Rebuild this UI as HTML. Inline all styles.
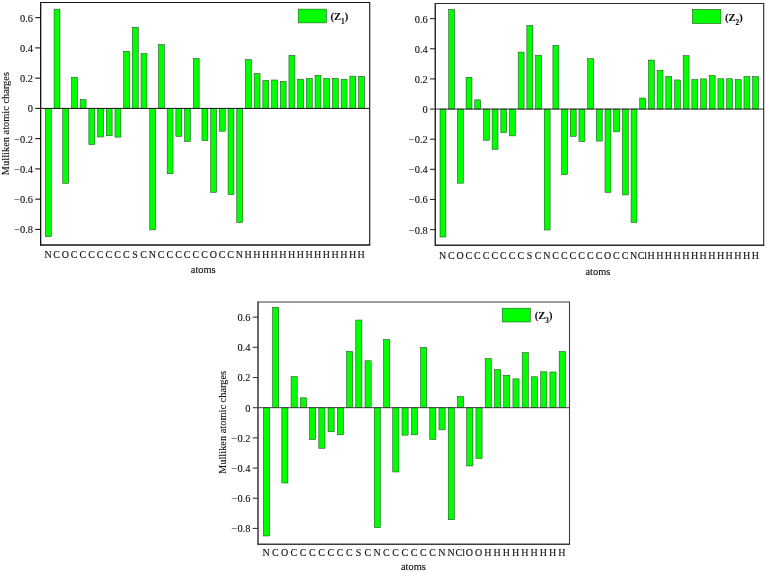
<!DOCTYPE html>
<html lang="en"><head><meta charset="utf-8"><title>Mulliken atomic charges</title>
<style>
html,body{margin:0;padding:0;background:#fff;}
body{width:767px;height:573px;overflow:hidden;}
svg{display:block;}
text{font-family:"Liberation Serif","Times New Roman",serif;fill:#111;stroke:#111;stroke-width:0.12px;}
.t{font-size:10px;}
.ax{stroke-width:1.2;fill:none;}
.tk{stroke-width:1.1;}
.b{fill:#00ff00;stroke:#234a23;stroke-width:0.55;}
.lg{font-weight:bold;font-size:10.5px;}
</style></head><body>
<svg width="767" height="573" viewBox="0 0 767 573">
<rect x="0" y="0" width="767" height="573" fill="#ffffff"/>
<g style="stroke:#141414">
<rect class="b" x="45.35" y="108.40" width="5.90" height="128.29"/>
<rect class="b" x="54.05" y="9.14" width="5.90" height="99.26"/>
<rect class="b" x="62.75" y="108.40" width="5.90" height="74.94"/>
<rect class="b" x="71.45" y="77.24" width="5.90" height="31.16"/>
<rect class="b" x="80.15" y="99.58" width="5.90" height="8.82"/>
<rect class="b" x="88.85" y="108.40" width="5.90" height="36.10"/>
<rect class="b" x="97.55" y="108.40" width="5.90" height="28.58"/>
<rect class="b" x="106.25" y="108.40" width="5.90" height="27.36"/>
<rect class="b" x="114.95" y="108.40" width="5.90" height="28.73"/>
<rect class="b" x="123.65" y="51.25" width="5.90" height="57.15"/>
<rect class="b" x="132.35" y="27.23" width="5.90" height="81.17"/>
<rect class="b" x="141.05" y="53.53" width="5.90" height="54.87"/>
<rect class="b" x="149.75" y="108.40" width="5.90" height="121.45"/>
<rect class="b" x="158.45" y="44.56" width="5.90" height="63.84"/>
<rect class="b" x="167.15" y="108.40" width="5.90" height="65.36"/>
<rect class="b" x="175.85" y="108.40" width="5.90" height="27.97"/>
<rect class="b" x="184.55" y="108.40" width="5.90" height="33.14"/>
<rect class="b" x="193.25" y="58.54" width="5.90" height="49.86"/>
<rect class="b" x="201.95" y="108.40" width="5.90" height="32.22"/>
<rect class="b" x="210.65" y="108.40" width="5.90" height="83.90"/>
<rect class="b" x="219.35" y="108.40" width="5.90" height="22.80"/>
<rect class="b" x="228.05" y="108.40" width="5.90" height="86.18"/>
<rect class="b" x="236.75" y="108.40" width="5.90" height="114.15"/>
<rect class="b" x="245.45" y="59.61" width="5.90" height="48.79"/>
<rect class="b" x="254.15" y="73.59" width="5.90" height="34.81"/>
<rect class="b" x="262.85" y="80.43" width="5.90" height="27.97"/>
<rect class="b" x="271.55" y="79.98" width="5.90" height="28.42"/>
<rect class="b" x="280.25" y="81.34" width="5.90" height="27.06"/>
<rect class="b" x="288.95" y="55.35" width="5.90" height="53.05"/>
<rect class="b" x="297.65" y="79.22" width="5.90" height="29.18"/>
<rect class="b" x="306.35" y="78.46" width="5.90" height="29.94"/>
<rect class="b" x="315.05" y="75.26" width="5.90" height="33.14"/>
<rect class="b" x="323.75" y="78.46" width="5.90" height="29.94"/>
<rect class="b" x="332.45" y="78.30" width="5.90" height="30.10"/>
<rect class="b" x="341.15" y="79.37" width="5.90" height="29.03"/>
<rect class="b" x="349.85" y="76.18" width="5.90" height="32.22"/>
<rect class="b" x="358.55" y="76.33" width="5.90" height="32.07"/>
<path class="ax" d="M40.60 245.00V2.50H369.70V245.00" style="stroke-width:1.1"/>
<path class="ax" d="M40.60 2.00V245.70" style="stroke-width:1.2;stroke:#141414"/>
<path class="ax" d="M40.00 245.00H370.25" style="stroke-width:1.35"/>
<line class="ax" x1="40.60" y1="108.40" x2="369.70" y2="108.40" style="stroke-width:1"/>
<line class="tk" x1="35.30" y1="17.65" x2="40.60" y2="17.65"/>
<text class="t" x="33.00" y="21.60" text-anchor="end" style="font-size:10.4px">0.6</text>
<line class="tk" x1="35.30" y1="47.90" x2="40.60" y2="47.90"/>
<text class="t" x="33.00" y="51.85" text-anchor="end" style="font-size:10.4px">0.4</text>
<line class="tk" x1="35.30" y1="78.15" x2="40.60" y2="78.15"/>
<text class="t" x="33.00" y="82.10" text-anchor="end" style="font-size:10.4px">0.2</text>
<line class="tk" x1="35.30" y1="108.40" x2="40.60" y2="108.40"/>
<text class="t" x="33.00" y="112.35" text-anchor="end" style="font-size:10.4px">0</text>
<line class="tk" x1="35.30" y1="138.65" x2="40.60" y2="138.65"/>
<text class="t" x="33.00" y="142.60" text-anchor="end" style="font-size:10.4px">−0.2</text>
<line class="tk" x1="35.30" y1="168.90" x2="40.60" y2="168.90"/>
<text class="t" x="33.00" y="172.85" text-anchor="end" style="font-size:10.4px">−0.4</text>
<line class="tk" x1="35.30" y1="199.15" x2="40.60" y2="199.15"/>
<text class="t" x="33.00" y="203.10" text-anchor="end" style="font-size:10.4px">−0.6</text>
<line class="tk" x1="35.30" y1="229.40" x2="40.60" y2="229.40"/>
<text class="t" x="33.00" y="233.35" text-anchor="end" style="font-size:10.4px">−0.8</text>
<text class="t" x="48.00" y="258.00" text-anchor="middle">N</text>
<text class="t" x="56.70" y="258.00" text-anchor="middle">C</text>
<text class="t" x="65.40" y="258.00" text-anchor="middle">O</text>
<text class="t" x="74.10" y="258.00" text-anchor="middle">C</text>
<text class="t" x="82.80" y="258.00" text-anchor="middle">C</text>
<text class="t" x="91.50" y="258.00" text-anchor="middle">C</text>
<text class="t" x="100.20" y="258.00" text-anchor="middle">C</text>
<text class="t" x="108.90" y="258.00" text-anchor="middle">C</text>
<text class="t" x="117.60" y="258.00" text-anchor="middle">C</text>
<text class="t" x="126.30" y="258.00" text-anchor="middle">C</text>
<text class="t" x="135.00" y="258.00" text-anchor="middle">S</text>
<text class="t" x="143.70" y="258.00" text-anchor="middle">C</text>
<text class="t" x="152.40" y="258.00" text-anchor="middle">N</text>
<text class="t" x="161.10" y="258.00" text-anchor="middle">C</text>
<text class="t" x="169.80" y="258.00" text-anchor="middle">C</text>
<text class="t" x="178.50" y="258.00" text-anchor="middle">C</text>
<text class="t" x="187.20" y="258.00" text-anchor="middle">C</text>
<text class="t" x="195.90" y="258.00" text-anchor="middle">C</text>
<text class="t" x="204.60" y="258.00" text-anchor="middle">C</text>
<text class="t" x="213.30" y="258.00" text-anchor="middle">O</text>
<text class="t" x="222.00" y="258.00" text-anchor="middle">C</text>
<text class="t" x="230.70" y="258.00" text-anchor="middle">C</text>
<text class="t" x="239.40" y="258.00" text-anchor="middle">N</text>
<text class="t" x="248.10" y="258.00" text-anchor="middle">H</text>
<text class="t" x="256.80" y="258.00" text-anchor="middle">H</text>
<text class="t" x="265.50" y="258.00" text-anchor="middle">H</text>
<text class="t" x="274.20" y="258.00" text-anchor="middle">H</text>
<text class="t" x="282.90" y="258.00" text-anchor="middle">H</text>
<text class="t" x="291.60" y="258.00" text-anchor="middle">H</text>
<text class="t" x="300.30" y="258.00" text-anchor="middle">H</text>
<text class="t" x="309.00" y="258.00" text-anchor="middle">H</text>
<text class="t" x="317.70" y="258.00" text-anchor="middle">H</text>
<text class="t" x="326.40" y="258.00" text-anchor="middle">H</text>
<text class="t" x="335.10" y="258.00" text-anchor="middle">H</text>
<text class="t" x="343.80" y="258.00" text-anchor="middle">H</text>
<text class="t" x="352.50" y="258.00" text-anchor="middle">H</text>
<text class="t" x="361.20" y="258.00" text-anchor="middle">H</text>
<text class="t" x="203.20" y="272.80" text-anchor="middle" style="font-size:10.4px">atoms</text>
<text class="t" transform="translate(8.80,123.60) rotate(-90)" text-anchor="middle" style="font-size:10.4px">Mulliken atomic charges</text>
<rect class="b" x="298.20" y="9.10" width="28.30" height="13.80"/>
<text class="lg" x="330.50" y="20.00">(Z<tspan dy="3.8" style="font-size:7.3px">1</tspan><tspan dy="-3.8">)</tspan></text>
</g>
<g style="stroke:#2a2a2a">
<rect class="b" x="440.02" y="109.05" width="5.90" height="127.94"/>
<rect class="b" x="448.70" y="9.44" width="5.90" height="99.61"/>
<rect class="b" x="457.39" y="109.05" width="5.90" height="74.14"/>
<rect class="b" x="466.07" y="77.25" width="5.90" height="31.80"/>
<rect class="b" x="474.76" y="99.86" width="5.90" height="9.19"/>
<rect class="b" x="483.44" y="109.05" width="5.90" height="31.19"/>
<rect class="b" x="492.12" y="109.05" width="5.90" height="40.24"/>
<rect class="b" x="500.81" y="109.05" width="5.90" height="23.66"/>
<rect class="b" x="509.49" y="109.05" width="5.90" height="26.82"/>
<rect class="b" x="518.18" y="52.09" width="5.90" height="56.96"/>
<rect class="b" x="526.86" y="25.41" width="5.90" height="83.64"/>
<rect class="b" x="535.54" y="55.25" width="5.90" height="53.80"/>
<rect class="b" x="544.23" y="109.05" width="5.90" height="120.95"/>
<rect class="b" x="552.91" y="45.45" width="5.90" height="63.60"/>
<rect class="b" x="561.60" y="109.05" width="5.90" height="65.55"/>
<rect class="b" x="570.28" y="109.05" width="5.90" height="27.28"/>
<rect class="b" x="578.96" y="109.05" width="5.90" height="32.48"/>
<rect class="b" x="587.65" y="58.72" width="5.90" height="50.33"/>
<rect class="b" x="596.33" y="109.05" width="5.90" height="32.04"/>
<rect class="b" x="605.02" y="109.05" width="5.90" height="83.34"/>
<rect class="b" x="613.70" y="109.05" width="5.90" height="22.76"/>
<rect class="b" x="622.38" y="109.05" width="5.90" height="85.90"/>
<rect class="b" x="631.07" y="109.05" width="5.90" height="113.48"/>
<rect class="b" x="639.75" y="98.05" width="5.90" height="11.00"/>
<rect class="b" x="648.44" y="60.07" width="5.90" height="48.98"/>
<rect class="b" x="657.12" y="70.32" width="5.90" height="38.73"/>
<rect class="b" x="665.80" y="76.35" width="5.90" height="32.70"/>
<rect class="b" x="674.49" y="79.96" width="5.90" height="29.09"/>
<rect class="b" x="683.17" y="55.70" width="5.90" height="53.35"/>
<rect class="b" x="691.86" y="79.59" width="5.90" height="29.46"/>
<rect class="b" x="700.54" y="78.91" width="5.90" height="30.14"/>
<rect class="b" x="709.22" y="75.50" width="5.90" height="33.55"/>
<rect class="b" x="717.91" y="78.76" width="5.90" height="30.29"/>
<rect class="b" x="726.59" y="78.76" width="5.90" height="30.29"/>
<rect class="b" x="735.28" y="79.59" width="5.90" height="29.46"/>
<rect class="b" x="743.96" y="76.57" width="5.90" height="32.48"/>
<rect class="b" x="752.64" y="76.57" width="5.90" height="32.48"/>
<path class="ax" d="M435.30 245.20V3.50H763.70V245.20" style="stroke-width:1.1"/>
<path class="ax" d="M435.30 3.00V245.90" style="stroke-width:1.15;stroke:#2a2a2a"/>
<path class="ax" d="M434.70 245.20H764.25" style="stroke-width:1.35"/>
<line class="ax" x1="435.30" y1="109.05" x2="763.70" y2="109.05" style="stroke-width:1"/>
<line class="tk" x1="430.00" y1="18.63" x2="435.30" y2="18.63"/>
<text class="t" x="427.70" y="22.58" text-anchor="end" style="font-size:10.4px">0.6</text>
<line class="tk" x1="430.00" y1="48.77" x2="435.30" y2="48.77"/>
<text class="t" x="427.70" y="52.72" text-anchor="end" style="font-size:10.4px">0.4</text>
<line class="tk" x1="430.00" y1="78.91" x2="435.30" y2="78.91"/>
<text class="t" x="427.70" y="82.86" text-anchor="end" style="font-size:10.4px">0.2</text>
<line class="tk" x1="430.00" y1="109.05" x2="435.30" y2="109.05"/>
<text class="t" x="427.70" y="113.00" text-anchor="end" style="font-size:10.4px">0</text>
<line class="tk" x1="430.00" y1="139.19" x2="435.30" y2="139.19"/>
<text class="t" x="427.70" y="143.14" text-anchor="end" style="font-size:10.4px">−0.2</text>
<line class="tk" x1="430.00" y1="169.33" x2="435.30" y2="169.33"/>
<text class="t" x="427.70" y="173.28" text-anchor="end" style="font-size:10.4px">−0.4</text>
<line class="tk" x1="430.00" y1="199.47" x2="435.30" y2="199.47"/>
<text class="t" x="427.70" y="203.42" text-anchor="end" style="font-size:10.4px">−0.6</text>
<line class="tk" x1="430.00" y1="229.61" x2="435.30" y2="229.61"/>
<text class="t" x="427.70" y="233.56" text-anchor="end" style="font-size:10.4px">−0.8</text>
<text class="t" x="442.67" y="258.50" text-anchor="middle">N</text>
<text class="t" x="451.35" y="258.50" text-anchor="middle">C</text>
<text class="t" x="460.04" y="258.50" text-anchor="middle">O</text>
<text class="t" x="468.72" y="258.50" text-anchor="middle">C</text>
<text class="t" x="477.41" y="258.50" text-anchor="middle">C</text>
<text class="t" x="486.09" y="258.50" text-anchor="middle">C</text>
<text class="t" x="494.77" y="258.50" text-anchor="middle">C</text>
<text class="t" x="503.46" y="258.50" text-anchor="middle">C</text>
<text class="t" x="512.14" y="258.50" text-anchor="middle">C</text>
<text class="t" x="520.83" y="258.50" text-anchor="middle">C</text>
<text class="t" x="529.51" y="258.50" text-anchor="middle">S</text>
<text class="t" x="538.19" y="258.50" text-anchor="middle">C</text>
<text class="t" x="546.88" y="258.50" text-anchor="middle">N</text>
<text class="t" x="555.56" y="258.50" text-anchor="middle">C</text>
<text class="t" x="564.25" y="258.50" text-anchor="middle">C</text>
<text class="t" x="572.93" y="258.50" text-anchor="middle">C</text>
<text class="t" x="581.61" y="258.50" text-anchor="middle">C</text>
<text class="t" x="590.30" y="258.50" text-anchor="middle">C</text>
<text class="t" x="598.98" y="258.50" text-anchor="middle">C</text>
<text class="t" x="607.67" y="258.50" text-anchor="middle">O</text>
<text class="t" x="616.35" y="258.50" text-anchor="middle">C</text>
<text class="t" x="625.03" y="258.50" text-anchor="middle">C</text>
<text class="t" x="633.72" y="258.50" text-anchor="middle">N</text>
<text class="t" x="642.40" y="258.50" text-anchor="middle">Cl</text>
<text class="t" x="651.09" y="258.50" text-anchor="middle">H</text>
<text class="t" x="659.77" y="258.50" text-anchor="middle">H</text>
<text class="t" x="668.45" y="258.50" text-anchor="middle">H</text>
<text class="t" x="677.14" y="258.50" text-anchor="middle">H</text>
<text class="t" x="685.82" y="258.50" text-anchor="middle">H</text>
<text class="t" x="694.51" y="258.50" text-anchor="middle">H</text>
<text class="t" x="703.19" y="258.50" text-anchor="middle">H</text>
<text class="t" x="711.87" y="258.50" text-anchor="middle">H</text>
<text class="t" x="720.56" y="258.50" text-anchor="middle">H</text>
<text class="t" x="729.24" y="258.50" text-anchor="middle">H</text>
<text class="t" x="737.93" y="258.50" text-anchor="middle">H</text>
<text class="t" x="746.61" y="258.50" text-anchor="middle">H</text>
<text class="t" x="755.29" y="258.50" text-anchor="middle">H</text>
<text class="t" x="597.90" y="274.70" text-anchor="middle" style="font-size:10.4px">atoms</text>
<rect class="b" x="692.40" y="9.40" width="28.50" height="14.20"/>
<text class="lg" x="725.00" y="20.70">(Z<tspan dy="3.8" style="font-size:7.3px">2</tspan><tspan dy="-3.8">)</tspan></text>
</g>
<g style="stroke:#3c3c3c">
<rect class="b" x="263.32" y="407.70" width="6.15" height="128.27"/>
<rect class="b" x="272.57" y="307.28" width="6.15" height="100.42"/>
<rect class="b" x="281.81" y="407.70" width="6.15" height="75.30"/>
<rect class="b" x="291.06" y="376.52" width="6.15" height="31.18"/>
<rect class="b" x="300.31" y="397.80" width="6.15" height="9.90"/>
<rect class="b" x="309.55" y="407.70" width="6.15" height="31.84"/>
<rect class="b" x="318.80" y="407.70" width="6.15" height="40.59"/>
<rect class="b" x="328.04" y="407.70" width="6.15" height="24.08"/>
<rect class="b" x="337.28" y="407.70" width="6.15" height="27.10"/>
<rect class="b" x="346.53" y="351.41" width="6.15" height="56.29"/>
<rect class="b" x="355.77" y="320.03" width="6.15" height="87.67"/>
<rect class="b" x="365.02" y="360.77" width="6.15" height="46.93"/>
<rect class="b" x="374.26" y="407.70" width="6.15" height="119.97"/>
<rect class="b" x="383.51" y="339.49" width="6.15" height="68.21"/>
<rect class="b" x="392.75" y="407.70" width="6.15" height="64.28"/>
<rect class="b" x="402.00" y="407.70" width="6.15" height="27.46"/>
<rect class="b" x="411.24" y="407.70" width="6.15" height="27.10"/>
<rect class="b" x="420.49" y="347.34" width="6.15" height="60.36"/>
<rect class="b" x="429.73" y="407.70" width="6.15" height="31.84"/>
<rect class="b" x="438.98" y="407.70" width="6.15" height="22.15"/>
<rect class="b" x="448.22" y="407.70" width="6.15" height="112.04"/>
<rect class="b" x="457.47" y="396.53" width="6.15" height="11.17"/>
<rect class="b" x="466.71" y="407.70" width="6.15" height="58.25"/>
<rect class="b" x="475.96" y="407.70" width="6.15" height="50.70"/>
<rect class="b" x="485.20" y="358.66" width="6.15" height="49.04"/>
<rect class="b" x="494.45" y="369.67" width="6.15" height="38.03"/>
<rect class="b" x="503.69" y="375.26" width="6.15" height="32.44"/>
<rect class="b" x="512.94" y="378.88" width="6.15" height="28.82"/>
<rect class="b" x="522.18" y="352.62" width="6.15" height="55.08"/>
<rect class="b" x="531.43" y="376.77" width="6.15" height="30.93"/>
<rect class="b" x="540.67" y="371.79" width="6.15" height="35.91"/>
<rect class="b" x="549.92" y="372.00" width="6.15" height="35.70"/>
<rect class="b" x="559.16" y="351.57" width="6.15" height="56.13"/>
<path class="ax" d="M258.00 544.25V302.00H569.50V544.25" style="stroke-width:1.1"/>
<path class="ax" d="M258.00 301.50V544.95" style="stroke-width:1;stroke:#3c3c3c"/>
<path class="ax" d="M257.40 544.25H570.05" style="stroke-width:1.35"/>
<line class="ax" x1="258.00" y1="407.70" x2="569.50" y2="407.70" style="stroke-width:1"/>
<line class="tk" x1="252.70" y1="317.16" x2="258.00" y2="317.16"/>
<text class="t" x="250.40" y="321.11" text-anchor="end" style="font-size:10.4px">0.6</text>
<line class="tk" x1="252.70" y1="347.34" x2="258.00" y2="347.34"/>
<text class="t" x="250.40" y="351.29" text-anchor="end" style="font-size:10.4px">0.4</text>
<line class="tk" x1="252.70" y1="377.52" x2="258.00" y2="377.52"/>
<text class="t" x="250.40" y="381.47" text-anchor="end" style="font-size:10.4px">0.2</text>
<line class="tk" x1="252.70" y1="407.70" x2="258.00" y2="407.70"/>
<text class="t" x="250.40" y="411.65" text-anchor="end" style="font-size:10.4px">0</text>
<line class="tk" x1="252.70" y1="437.88" x2="258.00" y2="437.88"/>
<text class="t" x="250.40" y="441.83" text-anchor="end" style="font-size:10.4px">−0.2</text>
<line class="tk" x1="252.70" y1="468.06" x2="258.00" y2="468.06"/>
<text class="t" x="250.40" y="472.01" text-anchor="end" style="font-size:10.4px">−0.4</text>
<line class="tk" x1="252.70" y1="498.24" x2="258.00" y2="498.24"/>
<text class="t" x="250.40" y="502.19" text-anchor="end" style="font-size:10.4px">−0.6</text>
<line class="tk" x1="252.70" y1="528.42" x2="258.00" y2="528.42"/>
<text class="t" x="250.40" y="532.37" text-anchor="end" style="font-size:10.4px">−0.8</text>
<text class="t" x="266.10" y="556.30" text-anchor="middle">N</text>
<text class="t" x="275.34" y="556.30" text-anchor="middle">C</text>
<text class="t" x="284.59" y="556.30" text-anchor="middle">O</text>
<text class="t" x="293.83" y="556.30" text-anchor="middle">C</text>
<text class="t" x="303.08" y="556.30" text-anchor="middle">C</text>
<text class="t" x="312.32" y="556.30" text-anchor="middle">C</text>
<text class="t" x="321.57" y="556.30" text-anchor="middle">C</text>
<text class="t" x="330.81" y="556.30" text-anchor="middle">C</text>
<text class="t" x="340.06" y="556.30" text-anchor="middle">C</text>
<text class="t" x="349.30" y="556.30" text-anchor="middle">C</text>
<text class="t" x="358.55" y="556.30" text-anchor="middle">S</text>
<text class="t" x="367.79" y="556.30" text-anchor="middle">C</text>
<text class="t" x="377.04" y="556.30" text-anchor="middle">N</text>
<text class="t" x="386.28" y="556.30" text-anchor="middle">C</text>
<text class="t" x="395.53" y="556.30" text-anchor="middle">C</text>
<text class="t" x="404.77" y="556.30" text-anchor="middle">C</text>
<text class="t" x="414.02" y="556.30" text-anchor="middle">C</text>
<text class="t" x="423.26" y="556.30" text-anchor="middle">C</text>
<text class="t" x="432.51" y="556.30" text-anchor="middle">C</text>
<text class="t" x="441.75" y="556.30" text-anchor="middle">N</text>
<text class="t" x="451.00" y="556.30" text-anchor="middle">N</text>
<text class="t" x="460.24" y="556.30" text-anchor="middle">Cl</text>
<text class="t" x="469.49" y="556.30" text-anchor="middle">O</text>
<text class="t" x="478.73" y="556.30" text-anchor="middle">O</text>
<text class="t" x="487.98" y="556.30" text-anchor="middle">H</text>
<text class="t" x="497.22" y="556.30" text-anchor="middle">H</text>
<text class="t" x="506.47" y="556.30" text-anchor="middle">H</text>
<text class="t" x="515.72" y="556.30" text-anchor="middle">H</text>
<text class="t" x="524.96" y="556.30" text-anchor="middle">H</text>
<text class="t" x="534.20" y="556.30" text-anchor="middle">H</text>
<text class="t" x="543.45" y="556.30" text-anchor="middle">H</text>
<text class="t" x="552.69" y="556.30" text-anchor="middle">H</text>
<text class="t" x="561.94" y="556.30" text-anchor="middle">H</text>
<text class="t" x="413.40" y="570.40" text-anchor="middle" style="font-size:10.4px">atoms</text>
<text class="t" transform="translate(226.30,422.40) rotate(-90)" text-anchor="middle" style="font-size:10.4px">Mulliken atomic charges</text>
<rect class="b" x="502.20" y="308.20" width="28.10" height="13.80"/>
<text class="lg" x="534.80" y="319.00">(Z<tspan dy="3.8" style="font-size:7.3px">3</tspan><tspan dy="-3.8">)</tspan></text>
</g>
</svg></body></html>
